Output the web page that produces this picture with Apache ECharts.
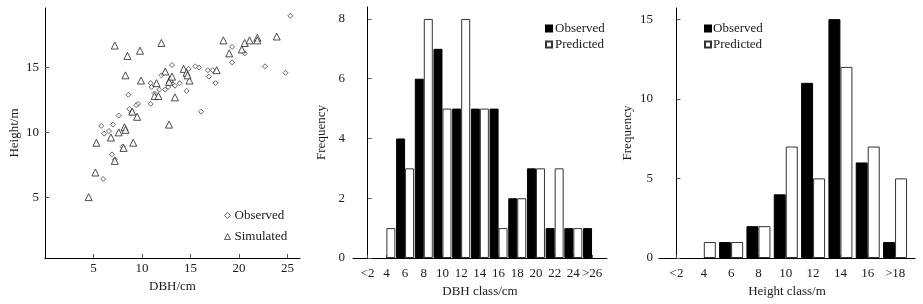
<!DOCTYPE html>
<html>
<head>
<meta charset="utf-8">
<script src="https://cdn.jsdelivr.net/npm/echarts@6/dist/echarts.min.js"></script>
<style>
  html, body { margin: 0; padding: 0; background: #fff; }
  #chart { width: 923px; height: 304px; }
</style>
</head>
<body>
<div id="chart"></div>
<script>
// scatter: [DBH cm, height m]
let observedPts = [
    [25.3,19.0],[24.8,14.6],[22.7,15.1],[20.6,16.1],[19.3,16.6],[19.3,15.4],[16.1,11.6],[17.6,13.8],
    [17.3,14.8],[16.9,14.3],[16.8,14.8],[15.9,15.0],[15.5,15.1],[14.8,14.9],[14.6,13.2],[13.9,13.8],
    [13.4,13.6],[13.1,15.2],[12.7,13.5],[12.4,13.3],[12.0,14.4],[11.8,13.3],[11.3,13.0],[11.0,13.5],
    [10.9,13.8],[10.9,12.2],[9.6,12.2],[9.4,12.1],[8.6,12.9],[8.7,11.8],[8.9,11.5],[7.6,11.3],
    [7.0,10.6],[6.6,10.1],[6.1,9.9],[5.8,10.5],[8.0,8.9],[6.9,8.3],[7.2,7.9],[6.0,6.4]
];
let simulatedPts = [
    [7.2,16.7],[8.5,15.9],[9.8,16.3],[12.0,16.9],[8.3,14.4],[9.9,14.0],[11.5,13.8],[11.3,12.8],
    [11.7,12.8],[12.4,14.7],[12.9,14.1],[12.8,13.9],[13.1,14.3],[13.4,12.7],[12.8,10.6],[14.3,14.9],
    [14.6,14.6],[14.9,14.0],[17.7,14.8],[18.4,17.1],[19.0,16.1],[20.3,16.4],[20.6,16.9],[21.1,17.1],
    [21.9,17.3],[21.9,17.1],[23.9,17.4],[9.0,11.6],[9.5,11.2],[8.2,10.4],[8.3,10.2],[7.6,10.0],
    [6.8,9.6],[5.3,9.2],[9.1,9.2],[8.1,8.8],[5.2,6.9],[4.5,5.0],[7.2,7.8],[14.7,14.4]
];
let scatterXTicks = [5, 10, 15, 20, 25];
let scatterYTicks = [5, 10, 15];

// DBH class histogram
let dbhClasses = ['<2','4','6','8','10','12','14','16','18','20','22','24','>26'];
let dbhObserved = [0, 0, 4, 6, 7, 5, 5, 5, 2, 3, 1, 1, 1];
let dbhPredicted = [0, 1, 3, 8, 5, 8, 5, 1, 2, 3, 3, 1, 0];
let dbhYTicks = [0, 2, 4, 6, 8];

// height class histogram
let hClasses = ['<2','4','6','8','10','12','14','16','>18'];
let hObserved = [0, 0, 1, 2, 4, 11, 15, 6, 1];
let hPredicted = [0, 1, 1, 2, 7, 5, 12, 7, 5];
let hYTicks = [0, 5, 10, 15];

const FONT = 'Liberation Serif';
const TXT = '#1a1a1a';

// zero classes draw nothing
function idxPairs(arr) {
    return arr.map(function (v, i) { return v === 0 ? [i, null] : [i, v]; });
}
function range(n) {
    let r = [];
    for (let i = 0; i < n; i++) r.push(i);
    return r;
}

function yAx(grid, min, max, ticks, name, nameGap, margin) {
    return {
        type: 'value', gridIndex: grid, min: min, max: max,
        name: name, nameLocation: 'middle', nameGap: nameGap,
        nameTextStyle: { fontFamily: FONT, fontSize: 13, color: TXT },
        splitLine: { show: false },
        axisLine: { show: true, lineStyle: { color: '#000', width: 1 } },
        axisTick: { show: true, inside: true, length: 4, customValues: ticks, lineStyle: { color: '#555' } },
        axisLabel: { customValues: ticks, fontFamily: FONT, fontSize: 13, color: TXT, margin: margin }
    };
}

function catAx(grid, cats, min, max, name, margin) {
    let ticks = range(cats.length);
    return {
        type: 'value', gridIndex: grid, min: min, max: max,
        name: name, nameLocation: 'middle', nameGap: 24,
        nameTextStyle: { fontFamily: FONT, fontSize: 13, color: TXT },
        splitLine: { show: false },
        axisLine: { show: true, onZero: false, lineStyle: { color: '#000', width: 1 } },
        axisTick: { show: true, inside: true, length: 3, customValues: ticks, lineStyle: { color: '#555' } },
        axisLabel: {
            customValues: ticks, fontFamily: FONT, fontSize: 13, color: TXT, margin: margin,
            formatter: function (v) { return cats[Math.round(v)]; }
        }
    };
}

let option = {
    backgroundColor: '#fff',
    animation: false,
    textStyle: { fontFamily: FONT },
    grid: [
        { left: 45, top: 8, width: 255, height: 250 },
        { left: 353, top: 7, width: 254, height: 251 },
        { left: 659, top: 8, width: 256, height: 250 }
    ],
    legend: [
        {
            data: ['Observed', 'Simulated'],
            orient: 'vertical', left: 219, top: 204, itemWidth: 6, itemHeight: 6, itemGap: 8,
            itemStyle: { color: '#fff', borderColor: '#333', borderWidth: 1 },
            textStyle: { fontFamily: FONT, fontSize: 13, color: TXT, padding: [0, 0, 0, -1] }
        },
        {
            data: [{ name: 'Observed ', icon: 'rect' }, { name: 'Predicted ', icon: 'rect' }],
            orient: 'vertical', left: 540, top: 17, itemWidth: 6, itemHeight: 6, itemGap: 3,
            textStyle: { fontFamily: FONT, fontSize: 13, color: TXT, padding: [0, 0, 0, -2] }
        },
        {
            data: [{ name: 'Observed  ', icon: 'rect' }, { name: 'Predicted  ', icon: 'rect' }],
            orient: 'vertical', left: 699, top: 17, itemWidth: 6, itemHeight: 6, itemGap: 3,
            textStyle: { fontFamily: FONT, fontSize: 13, color: TXT, padding: [0, 0, 0, -3] }
        }
    ],
    xAxis: [
        {
            type: 'value', gridIndex: 0, min: 0, max: 26.3,
            name: 'DBH/cm', nameLocation: 'middle', nameGap: 21,
            nameTextStyle: { fontFamily: FONT, fontSize: 13, color: TXT },
            splitLine: { show: false },
            axisLine: { show: true, onZero: false, lineStyle: { color: '#000', width: 1 } },
            axisTick: { show: true, inside: true, length: 4, customValues: scatterXTicks, lineStyle: { color: '#555' } },
            axisLabel: { customValues: scatterXTicks, fontFamily: FONT, fontSize: 13, color: TXT, margin: 4 }
        },
        catAx(1, dbhClasses, -0.786, 12.8, 'DBH class/cm', 9),
        catAx(2, hClasses, -0.64, 8.73, 'Height class/m', 9)
    ],
    yAxis: [
        yAx(0, 0.3, 19.6, scatterYTicks, 'Height/m', 24, 6),
        yAx(1, 0, 8.4, dbhYTicks, 'Frequency', 25, 8),
        yAx(2, 0, 15.7, hYTicks, 'Frequency', 25, 6)
    ],
    series: [
        {
            name: 'Observed', type: 'scatter', xAxisIndex: 0, yAxisIndex: 0,
            symbol: 'diamond', symbolSize: 5,
            itemStyle: { color: '#fff', borderColor: '#444', borderWidth: 1 },
            data: observedPts
        },
        {
            name: 'Simulated', type: 'scatter', xAxisIndex: 0, yAxisIndex: 0,
            symbol: 'triangle', symbolSize: 7,
            itemStyle: { color: '#fff', borderColor: '#222', borderWidth: 1 },
            data: simulatedPts
        },
        {
            name: 'Observed ', type: 'bar', xAxisIndex: 1, yAxisIndex: 1,
            barWidth: 9, barGap: '0%',
            itemStyle: { color: '#000', borderColor: '#000', borderWidth: 1 },
            data: idxPairs(dbhObserved)
        },
        {
            name: 'Predicted ', type: 'bar', xAxisIndex: 1, yAxisIndex: 1,
            barWidth: 9, barGap: '0%',
            itemStyle: { color: '#fff', borderColor: '#333', borderWidth: 1 },
            data: idxPairs(dbhPredicted)
        },
        {
            name: 'Observed  ', type: 'bar', xAxisIndex: 2, yAxisIndex: 2,
            barWidth: 12, barGap: '0%',
            itemStyle: { color: '#000', borderColor: '#000', borderWidth: 1 },
            data: idxPairs(hObserved)
        },
        {
            name: 'Predicted  ', type: 'bar', xAxisIndex: 2, yAxisIndex: 2,
            barWidth: 12, barGap: '0%',
            itemStyle: { color: '#fff', borderColor: '#333', borderWidth: 1 },
            data: idxPairs(hPredicted)
        }
    ]
};

let myChart = echarts.init(document.getElementById('chart'));
myChart.setOption(option);
</script>
</body>
</html>
